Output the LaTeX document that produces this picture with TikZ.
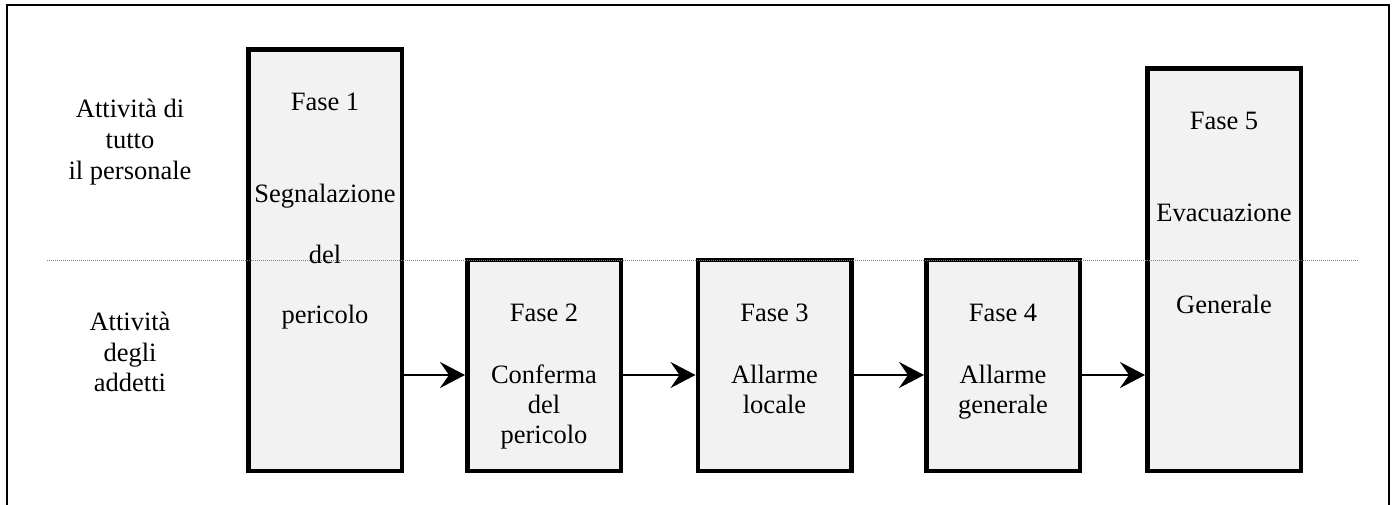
\documentclass[tikz,border=0pt]{standalone}
\usepackage{fontspec}
\setmainfont{Liberation Serif}
\usetikzlibrary{arrows.meta}
\definecolor{boxfill}{HTML}{F2F2F2}
\definecolor{dotgray}{HTML}{7F7F7F}
\begin{document}
\begin{tikzpicture}[x=1pt,y=-1pt,
  phase/.style={draw=black, line width=4.5pt, fill=boxfill, rectangle, minimum width=153.5pt, inner sep=0pt},
  txt/.style={font=\fontsize{26.5}{31}\selectfont, anchor=base, inner sep=0pt},
  arr/.style={line width=2pt, -{Stealth[length=25pt,width=26pt,inset=9pt]}}
]
\useasboundingbox (0,0) rectangle (1397,504);
\clip (0,0) rectangle (1397,504);
\fill[white] (0,0) rectangle (1397,504);
\draw[line width=2pt] (7,5) rectangle (1388.5,530);

% boxes
\node[phase, minimum height=421.5pt] (b1) at (325,260) {};
\node[phase, minimum height=211pt] (b2) at (544,365.25) {};
\node[phase, minimum height=211pt] (b3) at (774.5,365.25) {};
\node[phase, minimum height=211pt] (b4) at (1003,365.25) {};
\node[phase, minimum height=402.5pt] (b5) at (1224,269.5) {};

% separator
\coordinate (s1) at (47,260);
\coordinate (s2) at (1358,260);
\draw[dotgray, line width=1pt, dash pattern=on 1pt off 1pt] (s1) -- (s2);

% arrows
\coordinate (ay) at (0,375);
\draw[arr] (b1.east |- ay) -- (b2.west |- ay);
\draw[arr] (b2.east |- ay) -- (b3.west |- ay);
\draw[arr] (b3.east |- ay) -- (b4.west |- ay);
\draw[arr] (b4.east |- ay) -- (b5.west |- ay);

% left labels
\node[txt] (l1) at (130,117) {Attività di};
\node[txt] (l2) at (130,148) {tutto};
\node[txt] (l3) at (130,179) {il personale};
\node[txt] (l4) at (130,330) {Attività};
\node[txt] (l5) at (130,361) {degli};
\node[txt] (l6) at (130,391) {addetti};

% box 1
\node[txt] (t11) at (325,110) {Fase 1};
\node[txt] (t12) at (325,202) {Segnalazione};
\node[txt] (t13) at (325,263) {del};
\node[txt] (t14) at (325,323) {pericolo};

% box 2
\node[txt] (t21) at (544,321) {Fase 2};
\node[txt] (t22) at (544,383) {Conferma};
\node[txt] (t23) at (544,413) {del};
\node[txt] (t24) at (544,443) {pericolo};

% box 3
\node[txt] (t31) at (774.5,321) {Fase 3};
\node[txt] (t32) at (774.5,383) {Allarme};
\node[txt] (t33) at (774.5,413) {locale};

% box 4
\node[txt] (t41) at (1003,321) {Fase 4};
\node[txt] (t42) at (1003,383) {Allarme};
\node[txt] (t43) at (1003,413) {generale};

% box 5
\node[txt] (t51) at (1224,129) {Fase 5};
\node[txt] (t52) at (1224,221) {Evacuazione};
\node[txt] (t53) at (1224,313) {Generale};
\end{tikzpicture}
\end{document}
